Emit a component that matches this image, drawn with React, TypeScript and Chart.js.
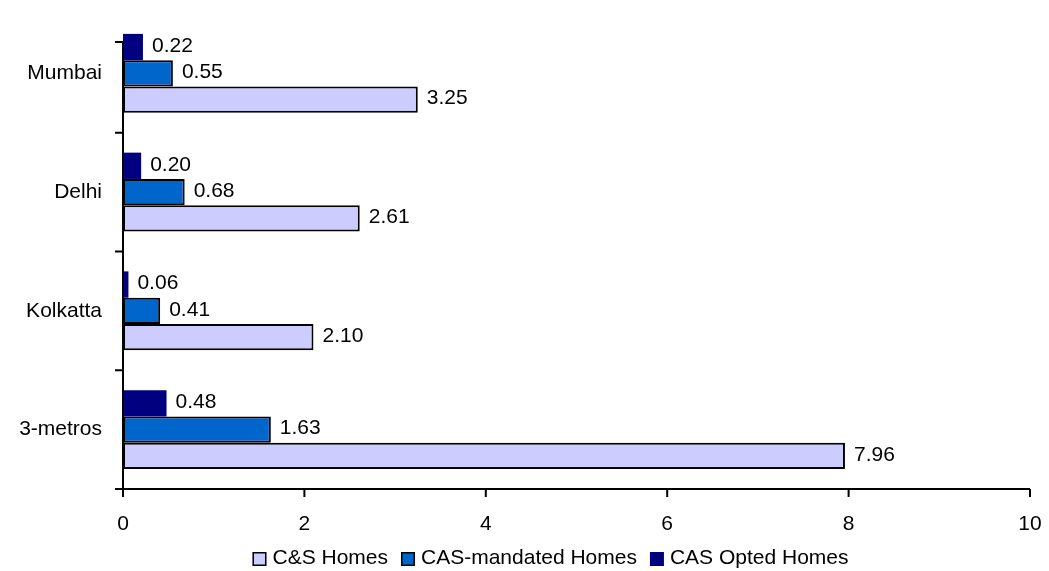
import React, { useEffect, useRef } from "react";
import { Chart, registerables } from "chart.js";

Chart.register(...registerables);

const categories = ["Mumbai", "Delhi", "Kolkatta", "3-metros"];
const csHomes = [3.25, 2.61, 2.1, 7.96];
const casMandated = [0.55, 0.68, 0.41, 1.63];
const casOpted = [0.22, 0.2, 0.06, 0.48];
const seriesNames = ["C&S Homes", "CAS-mandated Homes", "CAS Opted Homes"];
const xMin = 0;
const xMax = 10;
const xStep = 2;

const FONT = "'Liberation Sans', Arial, Helvetica, sans-serif";
const FS = 21;

const COLORS = {
  cs: "#CCCCFF",
  mandated: "#0066CC",
  opted: "#000080",
};

const decorPlugin = {
  id: "decor",
  afterDatasetsDraw(chart: any) {
    const ctx = chart.ctx;
    const { left, right, top, bottom } = chart.chartArea;
    const xs = chart.scales.x;
    const ys = chart.scales.y;
    ctx.save();
    // value labels
    ctx.font = `${FS}px ${FONT}`;
    ctx.fillStyle = "#000";
    ctx.textBaseline = "middle";
    ctx.textAlign = "left";
    chart.data.datasets.forEach((ds: any, di: number) => {
      const meta = chart.getDatasetMeta(di);
      meta.data.forEach((bar: any, i: number) => {
        ctx.fillText(Number(ds.data[i]).toFixed(2), bar.x + 9, bar.y - 1);
      });
    });
    // axes
    ctx.strokeStyle = "#000";
    ctx.lineWidth = 2;
    const band = ys.getPixelForValue(1) - ys.getPixelForValue(0);
    const axisTop = top + band * 0.235;
    ctx.beginPath();
    ctx.moveTo(left, axisTop);
    ctx.lineTo(left, bottom + 8);
    ctx.moveTo(left - 8, bottom);
    ctx.lineTo(right, bottom);
    for (let v = xMin; v <= xMax; v += xStep) {
      const px = xs.getPixelForValue(v);
      ctx.moveTo(px, bottom);
      ctx.lineTo(px, bottom + 8);
    }
    const yt = [axisTop];
    for (let i = 1; i < categories.length; i++) yt.push(ys.getPixelForValue(i - 0.5));
    yt.forEach((py) => {
      ctx.moveTo(left - 8, py);
      ctx.lineTo(left, py);
    });
    ctx.stroke();

    // legend
    const items = [
      { label: seriesNames[0], fill: COLORS.cs, border: true },
      { label: seriesNames[1], fill: COLORS.mandated, border: true },
      { label: seriesNames[2], fill: COLORS.opted, border: false },
    ];
    const box = 14;
    const gapText = 6;
    const gapItem = 13;
    let total = 0;
    items.forEach((it, i) => {
      total += box + gapText + ctx.measureText(it.label).width + (i < items.length - 1 ? gapItem : 0);
    });
    const centerX = (left + right) / 2 - 26;
    let x = centerX - total / 2;
    const ly = 558;
    items.forEach((it) => {
      ctx.fillStyle = it.fill;
      ctx.fillRect(x, ly - 6, box, box);
      if (it.border) {
        ctx.lineWidth = 1.5;
        ctx.strokeStyle = "#000";
        ctx.strokeRect(x + 0.75, ly - 5.25, box - 1.5, box - 1.5);
      }
      ctx.fillStyle = "#000";
      ctx.fillText(it.label, x + box + gapText, ly);
      x += box + gapText + ctx.measureText(it.label).width + gapItem;
    });
    ctx.restore();
  },
};

export default function App() {
  const ref = useRef<HTMLCanvasElement | null>(null);
  useEffect(() => {
    if (!ref.current) return;
    const chart = new Chart(ref.current, {
      type: "bar",
      data: {
        labels: categories,
        datasets: [
          {
            label: seriesNames[2],
            data: casOpted,
            backgroundColor: COLORS.opted,
            borderWidth: 0,
          },
          {
            label: seriesNames[1],
            data: casMandated,
            backgroundColor: COLORS.mandated,
            borderColor: "#000",
            borderWidth: 2,
            borderSkipped: false,
          },
          {
            label: seriesNames[0],
            data: csHomes,
            backgroundColor: COLORS.cs,
            borderColor: "#000",
            borderWidth: 2,
            borderSkipped: false,
          },
        ],
      },
      options: {
        indexAxis: "y",
        animation: false,
        responsive: false,
        maintainAspectRatio: false,
        layout: { padding: { top: 14, right: 19, left: 0, bottom: 0 } },
        datasets: { bar: { categoryPercentage: 0.665, barPercentage: 1.0 } },
        plugins: {
          legend: { display: false },
          tooltip: { enabled: false },
          title: { display: false },
        },
        scales: {
          x: {
            min: xMin,
            max: xMax,
            ticks: {
              stepSize: xStep,
              color: "#000",
              font: { family: FONT, size: FS },
              padding: 15,
            },
            grid: { display: false },
            border: { display: false },
            afterFit(scale: any) {
              scale.height = 82;
              scale.paddingLeft = 0;
              scale.paddingRight = 0;
            },
          },
          y: {
            ticks: {
              color: "#000",
              font: { family: FONT, size: FS },
              padding: 13,
            },
            grid: { display: false },
            border: { display: false },
            afterFit(scale: any) {
              scale.width = 123;
              scale.paddingTop = 0;
              scale.paddingBottom = 0;
            },
          },
        },
      },
      plugins: [decorPlugin],
    });
    return () => chart.destroy();
  }, []);
  return (
    <div style={{ position: "fixed", left: 0, top: 0, width: 1049, height: 571, background: "#fff" }}>
      <canvas ref={ref} width={1049} height={571} style={{ display: "block" }} />
    </div>
  );
}
